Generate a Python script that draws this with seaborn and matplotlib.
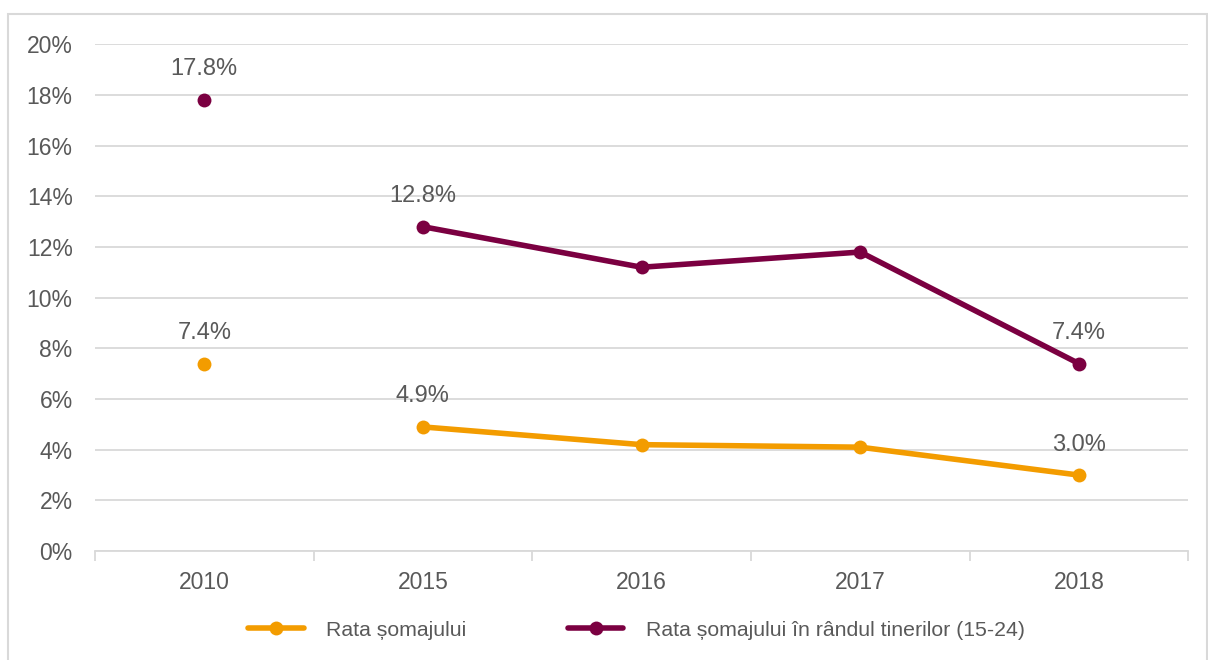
import pandas as pd
import numpy as np
import matplotlib
matplotlib.use("Agg")
import matplotlib.pyplot as plt
from matplotlib.lines import Line2D
from matplotlib.patches import Rectangle
import seaborn as sns

years = ["2010", "2015", "2016", "2017", "2018"]
rataSomaj = [7.4, 4.9, 4.2, 4.1, 3.0]
rataTineri = [17.8, 12.8, 11.2, 11.8, 7.4]
seriesNames = ["Rata șomajului", "Rata șomajului în rândul tinerilor (15-24)"]
# 2010 is shown as a lone point, not joined to 2015
segments = [0, 1, 1, 1, 1]
labelled = ["2010", "2015", "2018"]

colors = {seriesNames[0]: "#F39C00", seriesNames[1]: "#7B0041"}
textColor = "#595959"
gridColor = "#D9D9D9"

rows = []
for name, values in zip(seriesNames, [rataSomaj, rataTineri]):
    for i, (year, value) in enumerate(zip(years, values)):
        rows.append([name, year, i, value, segments[i]])
df = pd.DataFrame(rows, columns=["Series", "Year", "Pos", "Value", "Seg"])

sns.set_style("white")
plt.rcParams["font.family"] = ["Liberation Sans", "DejaVu Sans"]

fig = plt.figure(figsize=(12.08, 6.6), dpi=100)
ax = fig.add_axes([0.0786, 0.165, 0.905, 0.768])

sns.lineplot(data=df, x="Pos", y="Value", hue="Series", units="Seg", estimator=None,
             palette=colors, linewidth=4, marker="o", markersize=10,
             markeredgewidth=0, legend=False, ax=ax, zorder=3)

for _, r in df.iterrows():
    if r["Year"] in labelled:
        ax.annotate("{:.1f}%".format(r["Value"]), (r["Pos"], r["Value"]),
                    xytext=(0, 22), textcoords="offset points", ha="center",
                    va="center", fontsize=17, color=textColor)

ax.set_xlim(-0.5, len(years) - 0.5)
ax.set_ylim(0, 20)
ax.set_yticks(np.arange(0, 21, 2))
ax.set_yticklabels(["{}%".format(v) for v in range(0, 21, 2)])
ax.set_xticks(range(len(years)))
ax.set_xticklabels(years)
ax.set_xticks(np.arange(-0.5, len(years), 1), minor=True)
ax.set_xlabel("")
ax.set_ylabel("")

ax.grid(axis="y", color=gridColor, linewidth=1.3)
ax.set_axisbelow(True)
for side in ["top", "right", "left"]:
    ax.spines[side].set_visible(False)
ax.spines["bottom"].set_color(gridColor)
ax.spines["bottom"].set_linewidth(1.3)

ax.tick_params(axis="y", length=0, labelsize=16.5, labelcolor=textColor, pad=16)
ax.tick_params(axis="x", which="major", length=0, labelsize=16.5, labelcolor=textColor, pad=14)
ax.tick_params(axis="x", which="minor", bottom=True, length=7, width=1.3, color=gridColor,
               direction="out")

handles = [Line2D([0], [0], color=colors[n], linewidth=4, marker="o", markersize=10,
                  markeredgewidth=0) for n in seriesNames]
leg = fig.legend(handles, seriesNames, loc="center", bbox_to_anchor=(0.527, 0.045), ncol=2,
                 frameon=False, fontsize=15.3, handlelength=2.6, columnspacing=4.8,
                 handletextpad=1.05)
for t in leg.get_texts():
    t.set_color(textColor)

fig.patches.append(Rectangle((8 / 1208, -0.01), 1199 / 1208, 1 - 14 / 660 + 0.01,
                             transform=fig.transFigure, fill=False,
                             edgecolor="#D9D9D9", linewidth=1.5))

plt.savefig("out.png", dpi=100)
plt.close("all")
